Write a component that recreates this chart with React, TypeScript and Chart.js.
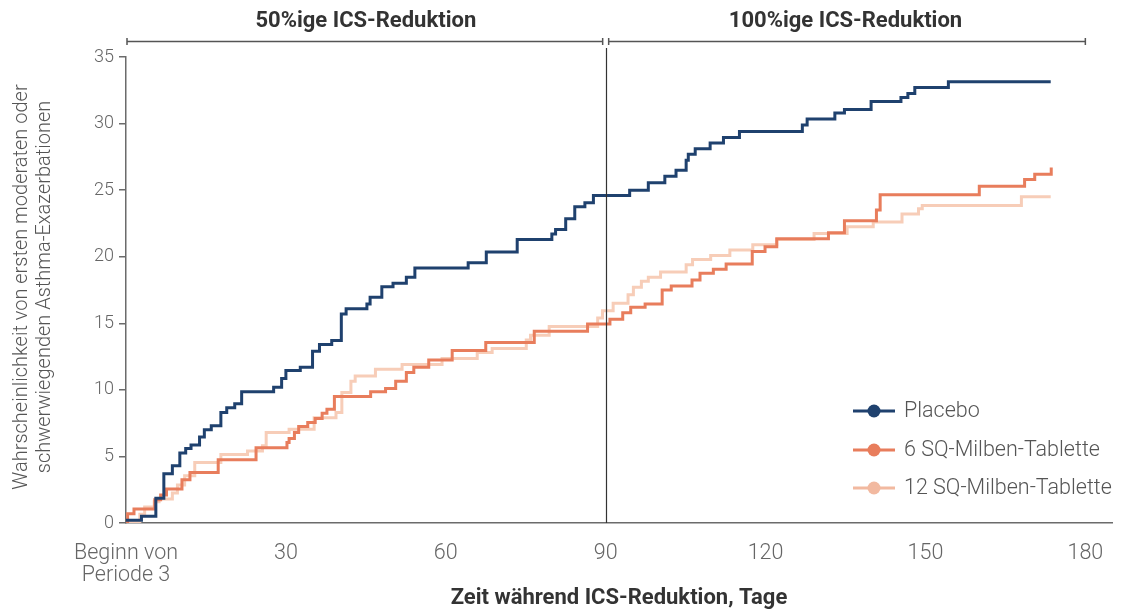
import React, { useEffect, useRef } from 'react';
import { Chart, registerables } from 'chart.js';

Chart.register(...registerables);

// ---- Data (day, cumulative probability %) ----
const seriesNames = ['Placebo', '6 SQ-Milben-Tablette', '12 SQ-Milben-Tablette'];
const seriesColors = ['#1f416e', '#e87d5c', '#f7cdb8'];
const legendColors = ['#1f416e', '#e87d5c', '#f2b9a0'];

const placeboDays = [0, 2.9, 5.6, 7.1, 8.7, 10.1, 11.2, 12.2, 13.8, 14.7, 16.0, 17.8, 18.9, 20.4, 21.7, 27.7, 29.2, 30.0, 32.7, 35.0, 36.3, 38.6, 40.4, 41.3, 45.2, 45.8, 48.0, 50.1, 52.6, 54.2, 64.2, 67.6, 73.4, 79.9, 80.6, 82.5, 84.2, 86.1, 87.7, 94.5, 98.0, 101.1, 103.2, 105.1, 105.5, 106.8, 109.6, 112.1, 115.1, 126.9, 127.8, 133.0, 134.8, 139.8, 145.4, 146.7, 148.0, 154.3, 173.5];
const placeboValues = [0.2, 0.5, 1.85, 3.7, 4.3, 5.25, 5.6, 5.85, 6.45, 7.0, 7.3, 8.3, 8.65, 8.95, 9.85, 10.2, 10.85, 11.45, 11.7, 12.9, 13.4, 13.7, 15.7, 16.1, 16.45, 16.95, 17.75, 18.0, 18.45, 19.15, 19.55, 20.35, 21.3, 21.7, 22.05, 22.85, 23.75, 24.05, 24.6, 25.0, 25.55, 26.05, 26.5, 27.25, 27.7, 28.1, 28.55, 28.95, 29.4, 29.9, 30.35, 30.8, 31.05, 31.65, 31.95, 32.25, 32.7, 33.15, 33.15];

const sq6Days = [0, 0.3, 1.5, 5.4, 6.5, 7.6, 10.5, 12.0, 17.3, 24.4, 30.2, 30.6, 31.6, 32.4, 34.1, 35.5, 36.8, 37.7, 39.1, 45.9, 48.7, 50.6, 52.6, 54.0, 56.8, 61.2, 67.5, 76.6, 86.6, 90.8, 93.2, 94.7, 97.4, 100.6, 102.3, 106.2, 107.7, 110.2, 112.6, 117.5, 119.9, 122.1, 131.8, 134.8, 140.8, 141.5, 160.1, 168.6, 170.5, 173.6];
const sq6Values = [0.1, 0.7, 1.05, 1.75, 2.1, 2.55, 3.25, 3.8, 4.75, 5.65, 6.05, 6.35, 6.8, 7.25, 7.55, 7.85, 8.25, 8.55, 9.5, 9.85, 10.1, 10.65, 11.3, 11.7, 12.25, 12.95, 13.55, 14.4, 14.95, 15.3, 15.8, 16.2, 16.45, 17.5, 17.8, 18.25, 18.75, 19.05, 19.45, 20.4, 20.75, 21.35, 21.8, 22.7, 23.5, 24.65, 25.3, 25.8, 26.2, 26.7];

const sq12Days = [0, 2.6, 3.5, 5.3, 6.2, 8.7, 9.65, 11.0, 12.9, 17.8, 22.8, 25.6, 26.3, 30.6, 35.3, 39.4, 40.5, 42.2, 43.0, 46.8, 51.8, 59.3, 65.9, 68.7, 75.1, 75.9, 79.4, 88.5, 89.4, 91.4, 94.2, 95.2, 96.7, 98.0, 100.3, 105.1, 106.3, 109.7, 113.3, 117.6, 122.1, 129.1, 135.3, 140.2, 145.6, 148.7, 149.4, 168.0, 173.5];
const sq12Values = [0.1, 0.65, 1.2, 1.6, 1.8, 2.25, 2.85, 3.55, 4.55, 5.15, 5.4, 5.8, 6.8, 7.05, 7.9, 8.3, 9.8, 10.65, 11.05, 11.55, 11.9, 12.35, 12.8, 13.1, 13.75, 14.1, 14.75, 15.4, 15.95, 16.5, 17.15, 17.7, 18.15, 18.45, 18.85, 19.4, 19.8, 20.1, 20.5, 20.9, 21.3, 21.75, 22.25, 22.6, 23.2, 23.6, 23.85, 24.5, 24.5];

const xTickValues = [0, 30, 60, 90, 120, 150, 180];
const xTickLabels: (string | string[])[] = [['Beginn von', 'Periode 3'], '30', '60', '90', '120', '150', '180'];
const yTickValues = [0, 5, 10, 15, 20, 25, 30, 35];

const phaseLabels = ['50%ige ICS-Reduktion', '100%ige ICS-Reduktion'];
const phaseBounds = [0, 90, 180];
const xTitle = 'Zeit während ICS-Reduktion, Tage';
const yTitle = ['Wahrscheinlichkeit von ersten moderaten oder', 'schwerwiegenden Asthma-Exazerbationen'];

const toPoints = (d: number[], v: number[]) => d.map((x, i) => ({ x, y: v[i] }));

const FONT = 'Roboto, "Noto Sans", sans-serif';

const decorPlugin = {
  id: 'decor',
  afterDraw(chart: any) {
    const { ctx, chartArea, scales } = chart;
    const xs = scales.x;
    const px = (v: number) => xs.getPixelForValue(v);
    ctx.save();

    // phase headers
    ctx.fillStyle = '#333333';
    ctx.font = `700 22px ${FONT}`;
    ctx.textAlign = 'center';
    ctx.textBaseline = 'middle';
    for (let i = 0; i < phaseLabels.length; i++) {
      const mid = (phaseBounds[i] + phaseBounds[i + 1]) / 2;
      ctx.fillText(phaseLabels[i], px(mid), 21);
    }

    // brackets
    ctx.strokeStyle = '#555555';
    ctx.lineWidth = 1.5;
    const by = 41.5;
    const segs = [
      [px(phaseBounds[0]) + 1, px(phaseBounds[1]) - 3],
      [px(phaseBounds[1]) + 3, px(phaseBounds[2])],
    ];
    for (const [a, b] of segs) {
      ctx.beginPath();
      ctx.moveTo(a, by);
      ctx.lineTo(b, by);
      ctx.moveTo(a, by - 3.5);
      ctx.lineTo(a, by + 3.5);
      ctx.moveTo(b, by - 3.5);
      ctx.lineTo(b, by + 3.5);
      ctx.stroke();
    }

    // divider at day 90
    ctx.strokeStyle = '#333333';
    ctx.lineWidth = 1.2;
    ctx.beginPath();
    const dx = Math.round(px(phaseBounds[1])) + 0.5;
    ctx.moveTo(dx, 48);
    ctx.lineTo(dx, chartArea.bottom);
    ctx.stroke();

    // x title
    ctx.fillStyle = '#333333';
    ctx.font = `700 22px ${FONT}`;
    ctx.textAlign = 'center';
    ctx.textBaseline = 'middle';
    ctx.fillText(xTitle, (chartArea.left + chartArea.right) / 2, 598);

    // y title
    ctx.save();
    ctx.translate(0, 287);
    ctx.rotate(-Math.PI / 2);
    ctx.fillStyle = '#555555';
    ctx.font = `300 20px ${FONT}`;
    ctx.textAlign = 'center';
    ctx.textBaseline = 'middle';
    ctx.fillText(yTitle[0], 0, 22);
    ctx.fillText(yTitle[1], 0, 45);
    ctx.restore();

    // legend
    const ly = [411, 450, 488];
    for (let i = 0; i < seriesNames.length; i++) {
      const y = ly[i];
      ctx.strokeStyle = legendColors[i];
      ctx.lineWidth = 3;
      ctx.beginPath();
      ctx.moveTo(853, y);
      ctx.lineTo(895, y);
      ctx.stroke();
      ctx.fillStyle = legendColors[i];
      ctx.beginPath();
      ctx.arc(874, y, 6.5, 0, Math.PI * 2);
      ctx.fill();
      ctx.fillStyle = '#555555';
      ctx.font = `300 21.5px ${FONT}`;
      ctx.textAlign = 'left';
      ctx.textBaseline = 'middle';
      ctx.fillText(seriesNames[i], 904, y + 1);
    }
    ctx.restore();
  },
};

export default function App() {
  const ref = useRef<HTMLCanvasElement | null>(null);

  useEffect(() => {
    document.body.style.margin = '0';
    if (!ref.current) return;
    const datasets = [
      toPoints(placeboDays, placeboValues),
      toPoints(sq6Days, sq6Values),
      toPoints(sq12Days, sq12Values),
    ].map((data, i) => ({
      label: seriesNames[i],
      data,
      borderColor: seriesColors[i],
      backgroundColor: seriesColors[i],
      borderWidth: 3,
      stepped: true as const,
      pointRadius: 0,
      fill: false,
      borderJoinStyle: 'miter' as const,
      borderCapStyle: 'butt' as const,
    }));

    const chart = new Chart(ref.current, {
      type: 'line',
      data: { datasets },
      plugins: [decorPlugin],
      options: {
        animation: false,
        responsive: true,
        maintainAspectRatio: false,
        layout: { padding: { top: 57, right: 12, left: 0, bottom: 0 } },
        plugins: { legend: { display: false }, tooltip: { enabled: false } },
        scales: {
          x: {
            type: 'linear',
            min: 0,
            max: 185,
            afterFit: (s: any) => { s.height = 86; },
            afterBuildTicks: (s: any) => { s.ticks = xTickValues.map((v) => ({ value: v })); },
            grid: { display: false, drawTicks: false },
            border: { display: true, color: '#6b6b6b', width: 1.5 },
            ticks: {
              padding: 19,
              color: '#666666',
              font: { family: FONT, size: 21.5, weight: 300 as any, lineHeight: 1.05 },
              maxRotation: 0,
              autoSkip: false,
              callback: (v: any) => {
                const i = xTickValues.indexOf(Number(v));
                return i >= 0 ? xTickLabels[i] : '';
              },
            },
          },
          y: {
            type: 'linear',
            min: 0,
            max: 35,
            afterFit: (s: any) => { s.width = 126; },
            afterBuildTicks: (s: any) => { s.ticks = yTickValues.map((v) => ({ value: v })); },
            grid: { display: true, drawOnChartArea: false, drawTicks: true, tickLength: 7, color: '#6b6b6b', lineWidth: 1.5 },
            border: { display: true, color: '#6b6b6b', width: 1.5 },
            ticks: {
              padding: 5,
              color: '#666666',
              font: { family: FONT, size: 18, weight: 300 as any },
              callback: (v: any) => String(v),
            },
          },
        },
      },
    });
    return () => chart.destroy();
  }, []);

  return (
    <div style={{ position: 'fixed', left: 0, top: 0, width: 1124, height: 609, background: '#fff' }}>
      <canvas ref={ref} />
    </div>
  );
}
